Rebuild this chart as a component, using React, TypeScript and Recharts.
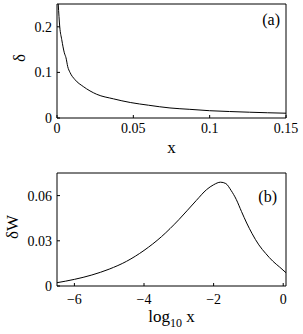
import { LineChart, Line, XAxis, YAxis, Label } from 'recharts'

// panel (a): delta against x
const xA = [0.0008, 0.0018, 0.0031, 0.0048, 0.0059, 0.007, 0.0085, 0.0118, 0.0172, 0.026, 0.037, 0.048, 0.06, 0.074, 0.087, 0.1, 0.113, 0.126, 0.138, 0.15]
const deltaA = [0.25, 0.2, 0.172, 0.143, 0.132, 0.113, 0.1, 0.084, 0.069, 0.052, 0.042, 0.034, 0.028, 0.022, 0.019, 0.016, 0.0142, 0.0127, 0.0115, 0.0105]
const ticksXA = [0, 0.05, 0.1, 0.15]
const ticksYA = [0, 0.1, 0.2]

// panel (b): delta W against log10 x
const logX = [-6.5, -6.0, -5.5, -5.0, -4.5, -4.0, -3.5, -3.0, -2.5, -2.2, -2.0, -1.8, -1.65, -1.5, -1.35, -1.2, -1.05, -0.9, -0.7, -0.5, -0.3, -0.1, 0.08]
const dW = [0.0022, 0.0044, 0.0073, 0.0112, 0.0164, 0.0236, 0.0327, 0.044, 0.0567, 0.064, 0.0672, 0.0689, 0.068, 0.0635, 0.0575, 0.0495, 0.0418, 0.035, 0.0273, 0.0215, 0.0165, 0.0125, 0.0088]
const ticksXB = [-6, -4, -2, 0]
const ticksYB = [0, 0.03, 0.06]

const dataA = xA.map((x, i) => ({ x, y: deltaA[i] }))
const dataB = logX.map((x, i) => ({ x, y: dW[i] }))

const font = '"Liberation Serif", "DejaVu Serif", serif'
const ax = { stroke: '#000', strokeWidth: 1 }
const fmt = (v: number) => (v < 0 ? `\u2212${-v}` : `${v}`)

function BottomTick({ x, y, payload }: any) {
  return (
    <text x={x} y={y} dy="0.71em" textAnchor="middle" fontSize={14} fontFamily={font} fill="#000">
      {fmt(payload.value)}
    </text>
  )
}

function LeftTick({ x, y, payload }: any) {
  return (
    <text x={x} y={y} dy="0.35em" textAnchor="end" fontSize={14} fontFamily={font} fill="#000">
      {fmt(payload.value)}
    </text>
  )
}

export default function App() {
  return (
    <div style={{ position: 'absolute', left: 0, top: 0, width: 303, height: 334, background: '#fff', fontFamily: font }}>
      <div style={{ position: 'absolute', left: 0, top: 0 }}>
        <LineChart width={303} height={167} data={dataA} margin={{ top: 3, right: 16, left: 0, bottom: 0 }}>
          <XAxis dataKey="x" type="number" domain={[0, 0.15]} ticks={ticksXA} interval={0}
            height={49} tickSize={-3} tickMargin={8} tick={<BottomTick />} axisLine={ax} tickLine={ax}>
            <Label content={({ viewBox }: any) => (
              <text x={viewBox.x + viewBox.width / 2} y={viewBox.y + 35} textAnchor="middle"
                fontSize={17} fontFamily={font} fill="#000">x</text>
            )} />
          </XAxis>
          <XAxis xAxisId="top" orientation="top" type="number" domain={[0, 0.15]} ticks={ticksXA} interval={0}
            height={1} tickSize={-3} tick={false} axisLine={ax} tickLine={ax}>
            <Label content={({ viewBox }: any) => (
              <text x={viewBox.x + viewBox.width - 6} y={viewBox.y + 22} textAnchor="end"
                fontSize={16} fontFamily={font} fill="#000">(a)</text>
            )} />
          </XAxis>
          <YAxis type="number" domain={[0, 0.25]} ticks={ticksYA} interval={0}
            width={57} tickSize={-3} tickMargin={8} tick={<LeftTick />} axisLine={ax} tickLine={ax}>
            <Label content={() => (
              <text x={25} y={58} textAnchor="middle" transform="rotate(-90 25 58)"
                fontSize={17} fontFamily={font} fill="#000">δ</text>
            )} />
          </YAxis>
          <YAxis yAxisId="right" orientation="right" type="number" domain={[0, 0.25]} ticks={ticksYA} interval={0}
            width={1} tickSize={-3} tick={false} axisLine={ax} tickLine={ax} />
          <Line dataKey="y" type="monotone" stroke="#000" strokeWidth={1} dot={false} isAnimationActive={false} />
          <Line dataKey="y" xAxisId="top" yAxisId="right" stroke="none" dot={false} legendType="none" isAnimationActive={false} />
        </LineChart>
      </div>
      <div style={{ position: 'absolute', left: 0, top: 167 }}>
        <LineChart width={303} height={167} data={dataB} margin={{ top: 5, right: 16, left: 0, bottom: 0 }}>
          <XAxis dataKey="x" type="number" domain={[-6.5, 0.08]} ticks={ticksXB} interval={0}
            height={48} tickSize={-3} tickMargin={11} tick={<BottomTick />} axisLine={ax} tickLine={ax}>
            <Label content={({ viewBox }: any) => (
              <text x={viewBox.x + viewBox.width / 2} y={viewBox.y + 36} textAnchor="middle"
                fontSize={17} fontFamily={font} fill="#000">
                log<tspan fontSize={12} dy={5}>10</tspan><tspan dy={-5}> x</tspan>
              </text>
            )} />
          </XAxis>
          <XAxis xAxisId="top" orientation="top" type="number" domain={[-6.5, 0.08]} ticks={ticksXB} interval={0}
            height={1} tickSize={-3} tick={false} axisLine={ax} tickLine={ax}>
            <Label content={({ viewBox }: any) => (
              <text x={viewBox.x + viewBox.width - 9} y={viewBox.y + 30} textAnchor="end"
                fontSize={16} fontFamily={font} fill="#000">(b)</text>
            )} />
          </XAxis>
          <YAxis type="number" domain={[0, 0.075]} ticks={ticksYB} interval={0}
            width={57} tickSize={-3} tickMargin={8} tick={<LeftTick />} axisLine={ax} tickLine={ax}>
            <Label content={() => (
              <text x={18} y={60} textAnchor="middle" transform="rotate(-90 18 60)"
                fontSize={17} fontFamily={font} fill="#000">δW</text>
            )} />
          </YAxis>
          <YAxis yAxisId="right" orientation="right" type="number" domain={[0, 0.075]} ticks={ticksYB} interval={0}
            width={1} tickSize={-3} tick={false} axisLine={ax} tickLine={ax} />
          <Line dataKey="y" type="monotone" stroke="#000" strokeWidth={1} dot={false} isAnimationActive={false} />
          <Line dataKey="y" xAxisId="top" yAxisId="right" stroke="none" dot={false} legendType="none" isAnimationActive={false} />
        </LineChart>
      </div>
    </div>
  )
}
